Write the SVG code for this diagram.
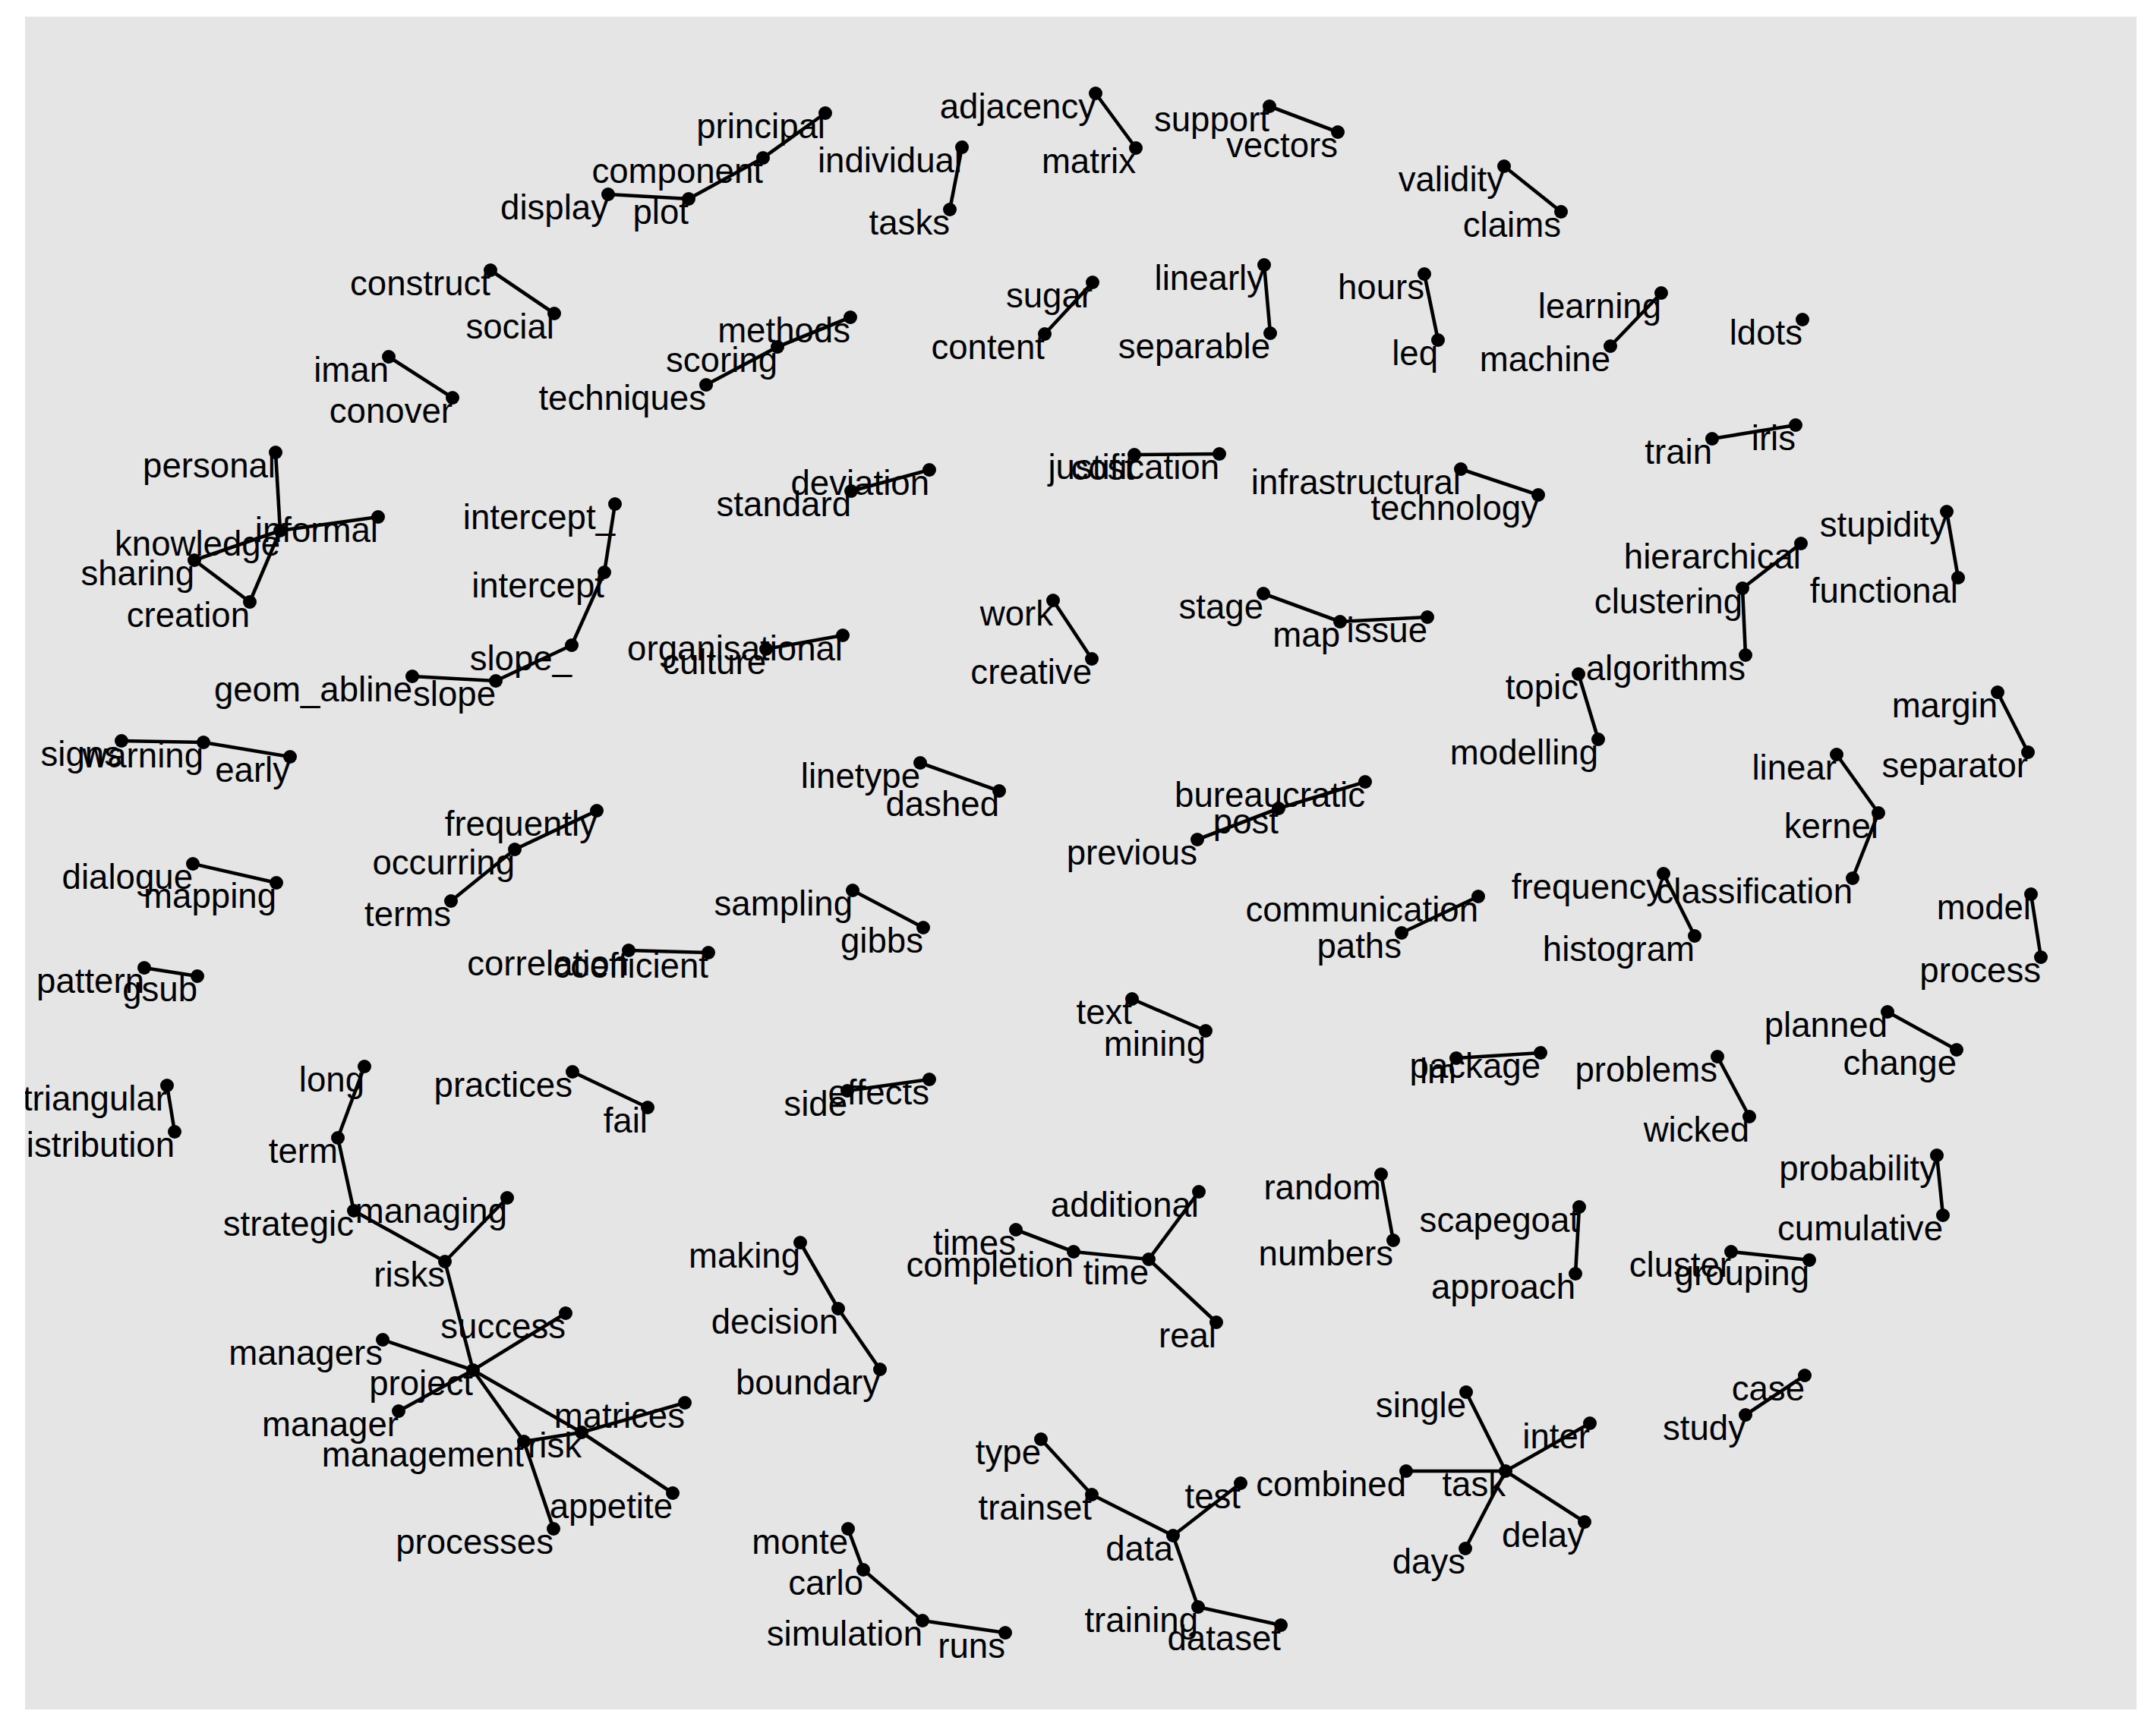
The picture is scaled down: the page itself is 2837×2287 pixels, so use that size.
<svg xmlns="http://www.w3.org/2000/svg" width="2837" height="2287" viewBox="0 0 2837 2287">
<style>
.e line{stroke:#000;stroke-width:4.6;stroke-linecap:butt}
.n circle{fill:#000}
.n text{font-family:"Liberation Sans",Arial,Helvetica,sans-serif;font-size:45.6px;text-anchor:end;fill:#000}
</style>
<defs><clipPath id="panel"><rect x="33" y="22" width="2781" height="2230"/></clipPath></defs>
<rect width="2837" height="2287" fill="#fff"/>
<rect x="33" y="22" width="2781" height="2230" fill="#e5e5e5"/>
<g clip-path="url(#panel)">
<g id="connectors" class="e">
<line x1="801" y1="256" x2="907" y2="262"/>
<line x1="907" y1="262" x2="1005" y2="208"/>
<line x1="1005" y1="208" x2="1087" y2="149"/>
<line x1="1267" y1="194" x2="1251" y2="276"/>
<line x1="1443" y1="123" x2="1496" y2="195"/>
<line x1="1672" y1="140" x2="1762" y2="174"/>
<line x1="1981" y1="219" x2="2056" y2="279"/>
<line x1="646" y1="356" x2="730" y2="413"/>
<line x1="512" y1="470" x2="596" y2="524"/>
<line x1="930" y1="507" x2="1024" y2="457"/>
<line x1="1024" y1="457" x2="1120" y2="418"/>
<line x1="1439" y1="372" x2="1376" y2="440"/>
<line x1="1665" y1="349" x2="1673" y2="439"/>
<line x1="1876" y1="361" x2="1894" y2="448"/>
<line x1="2188" y1="386" x2="2121" y2="456"/>
<line x1="2255" y1="578" x2="2365" y2="560"/>
<line x1="363" y1="596" x2="369" y2="699"/>
<line x1="369" y1="699" x2="498" y2="681"/>
<line x1="369" y1="699" x2="256" y2="738"/>
<line x1="369" y1="699" x2="329" y2="793"/>
<line x1="256" y1="738" x2="329" y2="793"/>
<line x1="810" y1="664" x2="796" y2="754"/>
<line x1="796" y1="754" x2="753" y2="850"/>
<line x1="753" y1="850" x2="653" y2="897"/>
<line x1="653" y1="897" x2="543" y2="891"/>
<line x1="1121" y1="647" x2="1224" y2="619"/>
<line x1="1494" y1="599" x2="1606" y2="598"/>
<line x1="1924" y1="618" x2="2026" y2="652"/>
<line x1="2564" y1="674" x2="2579" y2="761"/>
<line x1="2372" y1="716" x2="2295" y2="775"/>
<line x1="2295" y1="775" x2="2299" y2="863"/>
<line x1="1110" y1="837" x2="1009" y2="855"/>
<line x1="1387" y1="791" x2="1438" y2="868"/>
<line x1="1664" y1="782" x2="1765" y2="819"/>
<line x1="1765" y1="819" x2="1880" y2="813"/>
<line x1="2079" y1="888" x2="2105" y2="974"/>
<line x1="2631" y1="912" x2="2671" y2="991"/>
<line x1="160" y1="976" x2="268" y2="978"/>
<line x1="268" y1="978" x2="382" y2="997"/>
<line x1="1212" y1="1005" x2="1316" y2="1042"/>
<line x1="2419" y1="994" x2="2474" y2="1071"/>
<line x1="2474" y1="1071" x2="2440" y2="1157"/>
<line x1="1577" y1="1106" x2="1684" y2="1065"/>
<line x1="1684" y1="1065" x2="1798" y2="1030"/>
<line x1="786" y1="1068" x2="678" y2="1119"/>
<line x1="678" y1="1119" x2="594" y2="1187"/>
<line x1="254" y1="1138" x2="364" y2="1163"/>
<line x1="1123" y1="1173" x2="1216" y2="1222"/>
<line x1="1947" y1="1181" x2="1846" y2="1229"/>
<line x1="2191" y1="1151" x2="2232" y2="1233"/>
<line x1="2675" y1="1178" x2="2688" y2="1261"/>
<line x1="190" y1="1275" x2="260" y2="1286"/>
<line x1="828" y1="1252" x2="933" y2="1255"/>
<line x1="1491" y1="1316" x2="1588" y2="1358"/>
<line x1="1918" y1="1394" x2="2029" y2="1387"/>
<line x1="2262" y1="1392" x2="2304" y2="1471"/>
<line x1="2486" y1="1333" x2="2577" y2="1383"/>
<line x1="220" y1="1430" x2="230" y2="1491"/>
<line x1="480" y1="1405" x2="445" y2="1499"/>
<line x1="445" y1="1499" x2="466" y2="1595"/>
<line x1="754" y1="1412" x2="853" y2="1459"/>
<line x1="1116" y1="1437" x2="1224" y2="1422"/>
<line x1="2551" y1="1522" x2="2559" y2="1601"/>
<line x1="1819" y1="1547" x2="1835" y2="1634"/>
<line x1="2080" y1="1590" x2="2075" y2="1678"/>
<line x1="2280" y1="1649" x2="2383" y2="1660"/>
<line x1="466" y1="1595" x2="586" y2="1662"/>
<line x1="668" y1="1578" x2="586" y2="1662"/>
<line x1="586" y1="1662" x2="623" y2="1805"/>
<line x1="1338" y1="1620" x2="1414" y2="1649"/>
<line x1="1414" y1="1649" x2="1513" y2="1659"/>
<line x1="1513" y1="1659" x2="1579" y2="1570"/>
<line x1="1513" y1="1659" x2="1602" y2="1742"/>
<line x1="1054" y1="1637" x2="1104" y2="1724"/>
<line x1="1104" y1="1724" x2="1159" y2="1804"/>
<line x1="623" y1="1805" x2="745" y2="1730"/>
<line x1="623" y1="1805" x2="504" y2="1765"/>
<line x1="623" y1="1805" x2="525" y2="1859"/>
<line x1="623" y1="1805" x2="766" y2="1887"/>
<line x1="623" y1="1805" x2="690" y2="1899"/>
<line x1="690" y1="1899" x2="766" y2="1887"/>
<line x1="690" y1="1899" x2="729" y2="2014"/>
<line x1="766" y1="1887" x2="902" y2="1848"/>
<line x1="766" y1="1887" x2="886" y2="1967"/>
<line x1="2377" y1="1812" x2="2299" y2="1864"/>
<line x1="1983" y1="1938" x2="1931" y2="1834"/>
<line x1="1983" y1="1938" x2="1852" y2="1938"/>
<line x1="1983" y1="1938" x2="2094" y2="1875"/>
<line x1="1983" y1="1938" x2="2087" y2="2005"/>
<line x1="1983" y1="1938" x2="1930" y2="2040"/>
<line x1="1371" y1="1896" x2="1438" y2="1969"/>
<line x1="1438" y1="1969" x2="1545" y2="2023"/>
<line x1="1545" y1="2023" x2="1634" y2="1954"/>
<line x1="1545" y1="2023" x2="1578" y2="2117"/>
<line x1="1578" y1="2117" x2="1687" y2="2141"/>
<line x1="1117" y1="2014" x2="1137" y2="2068"/>
<line x1="1137" y1="2068" x2="1215" y2="2135"/>
<line x1="1215" y1="2135" x2="1324" y2="2151"/>
</g>
<g id="nodes" class="n">
<g id="node-display"><circle cx="801" cy="256" r="9"/><text x="801" y="289">display</text></g>
<g id="node-plot"><circle cx="907" cy="262" r="9"/><text x="907" y="295">plot</text></g>
<g id="node-component"><circle cx="1005" cy="208" r="9"/><text x="1005" y="241">component</text></g>
<g id="node-principal"><circle cx="1087" cy="149" r="9"/><text x="1087" y="182">principal</text></g>
<g id="node-individual"><circle cx="1267" cy="194" r="9"/><text x="1267" y="227">individual</text></g>
<g id="node-tasks"><circle cx="1251" cy="276" r="9"/><text x="1251" y="309">tasks</text></g>
<g id="node-adjacency"><circle cx="1443" cy="123" r="9"/><text x="1443" y="156">adjacency</text></g>
<g id="node-matrix"><circle cx="1496" cy="195" r="9"/><text x="1496" y="228">matrix</text></g>
<g id="node-support"><circle cx="1672" cy="140" r="9"/><text x="1672" y="173">support</text></g>
<g id="node-vectors"><circle cx="1762" cy="174" r="9"/><text x="1762" y="207">vectors</text></g>
<g id="node-validity"><circle cx="1981" cy="219" r="9"/><text x="1981" y="252">validity</text></g>
<g id="node-claims"><circle cx="2056" cy="279" r="9"/><text x="2056" y="312">claims</text></g>
<g id="node-construct"><circle cx="646" cy="356" r="9"/><text x="646" y="389">construct</text></g>
<g id="node-social"><circle cx="730" cy="413" r="9"/><text x="730" y="446">social</text></g>
<g id="node-iman"><circle cx="512" cy="470" r="9"/><text x="512" y="503">iman</text></g>
<g id="node-conover"><circle cx="596" cy="524" r="9"/><text x="596" y="557">conover</text></g>
<g id="node-techniques"><circle cx="930" cy="507" r="9"/><text x="930" y="540">techniques</text></g>
<g id="node-scoring"><circle cx="1024" cy="457" r="9"/><text x="1024" y="490">scoring</text></g>
<g id="node-methods"><circle cx="1120" cy="418" r="9"/><text x="1120" y="451">methods</text></g>
<g id="node-sugar"><circle cx="1439" cy="372" r="9"/><text x="1439" y="405">sugar</text></g>
<g id="node-content"><circle cx="1376" cy="440" r="9"/><text x="1376" y="473">content</text></g>
<g id="node-linearly"><circle cx="1665" cy="349" r="9"/><text x="1665" y="382">linearly</text></g>
<g id="node-separable"><circle cx="1673" cy="439" r="9"/><text x="1673" y="472">separable</text></g>
<g id="node-hours"><circle cx="1876" cy="361" r="9"/><text x="1876" y="394">hours</text></g>
<g id="node-leq"><circle cx="1894" cy="448" r="9"/><text x="1894" y="481">leq</text></g>
<g id="node-learning"><circle cx="2188" cy="386" r="9"/><text x="2188" y="419">learning</text></g>
<g id="node-machine"><circle cx="2121" cy="456" r="9"/><text x="2121" y="489">machine</text></g>
<g id="node-ldots"><circle cx="2374" cy="421" r="9"/><text x="2374" y="454">ldots</text></g>
<g id="node-train"><circle cx="2255" cy="578" r="9"/><text x="2255" y="611">train</text></g>
<g id="node-iris"><circle cx="2365" cy="560" r="9"/><text x="2365" y="593">iris</text></g>
<g id="node-personal"><circle cx="363" cy="596" r="9"/><text x="363" y="629">personal</text></g>
<g id="node-knowledge"><circle cx="369" cy="699" r="9"/><text x="369" y="732">knowledge</text></g>
<g id="node-informal"><circle cx="498" cy="681" r="9"/><text x="498" y="714">informal</text></g>
<g id="node-sharing"><circle cx="256" cy="738" r="9"/><text x="256" y="771">sharing</text></g>
<g id="node-creation"><circle cx="329" cy="793" r="9"/><text x="329" y="826">creation</text></g>
<g id="node-intercept_"><circle cx="810" cy="664" r="9"/><text x="810" y="697">intercept_</text></g>
<g id="node-intercept"><circle cx="796" cy="754" r="9"/><text x="796" y="787">intercept</text></g>
<g id="node-slope_"><circle cx="753" cy="850" r="9"/><text x="753" y="883">slope_</text></g>
<g id="node-slope"><circle cx="653" cy="897" r="9"/><text x="653" y="930">slope</text></g>
<g id="node-geom_abline"><circle cx="543" cy="891" r="9"/><text x="543" y="924">geom_abline</text></g>
<g id="node-standard"><circle cx="1121" cy="647" r="9"/><text x="1121" y="680">standard</text></g>
<g id="node-deviation"><circle cx="1224" cy="619" r="9"/><text x="1224" y="652">deviation</text></g>
<g id="node-cost"><circle cx="1494" cy="599" r="9"/><text x="1494" y="632">cost</text></g>
<g id="node-justification"><circle cx="1606" cy="598" r="9"/><text x="1606" y="631">justification</text></g>
<g id="node-infrastructural"><circle cx="1924" cy="618" r="9"/><text x="1924" y="651">infrastructural</text></g>
<g id="node-technology"><circle cx="2026" cy="652" r="9"/><text x="2026" y="685">technology</text></g>
<g id="node-stupidity"><circle cx="2564" cy="674" r="9"/><text x="2564" y="707">stupidity</text></g>
<g id="node-functional"><circle cx="2579" cy="761" r="9"/><text x="2579" y="794">functional</text></g>
<g id="node-hierarchical"><circle cx="2372" cy="716" r="9"/><text x="2372" y="749">hierarchical</text></g>
<g id="node-clustering"><circle cx="2295" cy="775" r="9"/><text x="2295" y="808">clustering</text></g>
<g id="node-algorithms"><circle cx="2299" cy="863" r="9"/><text x="2299" y="896">algorithms</text></g>
<g id="node-organisational"><circle cx="1110" cy="837" r="9"/><text x="1110" y="870">organisational</text></g>
<g id="node-culture"><circle cx="1009" cy="855" r="9"/><text x="1009" y="888">culture</text></g>
<g id="node-work"><circle cx="1387" cy="791" r="9"/><text x="1387" y="824">work</text></g>
<g id="node-creative"><circle cx="1438" cy="868" r="9"/><text x="1438" y="901">creative</text></g>
<g id="node-stage"><circle cx="1664" cy="782" r="9"/><text x="1664" y="815">stage</text></g>
<g id="node-map"><circle cx="1765" cy="819" r="9"/><text x="1765" y="852">map</text></g>
<g id="node-issue"><circle cx="1880" cy="813" r="9"/><text x="1880" y="846">issue</text></g>
<g id="node-topic"><circle cx="2079" cy="888" r="9"/><text x="2079" y="921">topic</text></g>
<g id="node-modelling"><circle cx="2105" cy="974" r="9"/><text x="2105" y="1007">modelling</text></g>
<g id="node-margin"><circle cx="2631" cy="912" r="9"/><text x="2631" y="945">margin</text></g>
<g id="node-separator"><circle cx="2671" cy="991" r="9"/><text x="2671" y="1024">separator</text></g>
<g id="node-signs"><circle cx="160" cy="976" r="9"/><text x="160" y="1009">signs</text></g>
<g id="node-warning"><circle cx="268" cy="978" r="9"/><text x="268" y="1011">warning</text></g>
<g id="node-early"><circle cx="382" cy="997" r="9"/><text x="382" y="1030">early</text></g>
<g id="node-linetype"><circle cx="1212" cy="1005" r="9"/><text x="1212" y="1038">linetype</text></g>
<g id="node-dashed"><circle cx="1316" cy="1042" r="9"/><text x="1316" y="1075">dashed</text></g>
<g id="node-linear"><circle cx="2419" cy="994" r="9"/><text x="2419" y="1027">linear</text></g>
<g id="node-kernel"><circle cx="2474" cy="1071" r="9"/><text x="2474" y="1104">kernel</text></g>
<g id="node-classification"><circle cx="2440" cy="1157" r="9"/><text x="2440" y="1190">classification</text></g>
<g id="node-bureaucratic"><circle cx="1798" cy="1030" r="9"/><text x="1798" y="1063">bureaucratic</text></g>
<g id="node-post"><circle cx="1684" cy="1065" r="9"/><text x="1684" y="1098">post</text></g>
<g id="node-previous"><circle cx="1577" cy="1106" r="9"/><text x="1577" y="1139">previous</text></g>
<g id="node-frequently"><circle cx="786" cy="1068" r="9"/><text x="786" y="1101">frequently</text></g>
<g id="node-occurring"><circle cx="678" cy="1119" r="9"/><text x="678" y="1152">occurring</text></g>
<g id="node-terms"><circle cx="594" cy="1187" r="9"/><text x="594" y="1220">terms</text></g>
<g id="node-dialogue"><circle cx="254" cy="1138" r="9"/><text x="254" y="1171">dialogue</text></g>
<g id="node-mapping"><circle cx="364" cy="1163" r="9"/><text x="364" y="1196">mapping</text></g>
<g id="node-sampling"><circle cx="1123" cy="1173" r="9"/><text x="1123" y="1206">sampling</text></g>
<g id="node-gibbs"><circle cx="1216" cy="1222" r="9"/><text x="1216" y="1255">gibbs</text></g>
<g id="node-communication"><circle cx="1947" cy="1181" r="9"/><text x="1947" y="1214">communication</text></g>
<g id="node-paths"><circle cx="1846" cy="1229" r="9"/><text x="1846" y="1262">paths</text></g>
<g id="node-frequency"><circle cx="2191" cy="1151" r="9"/><text x="2191" y="1184">frequency</text></g>
<g id="node-histogram"><circle cx="2232" cy="1233" r="9"/><text x="2232" y="1266">histogram</text></g>
<g id="node-model"><circle cx="2675" cy="1178" r="9"/><text x="2675" y="1211">model</text></g>
<g id="node-process"><circle cx="2688" cy="1261" r="9"/><text x="2688" y="1294">process</text></g>
<g id="node-pattern"><circle cx="190" cy="1275" r="9"/><text x="190" y="1308">pattern</text></g>
<g id="node-gsub"><circle cx="260" cy="1286" r="9"/><text x="260" y="1319">gsub</text></g>
<g id="node-correlation"><circle cx="828" cy="1252" r="9"/><text x="828" y="1285">correlation</text></g>
<g id="node-coefficient"><circle cx="933" cy="1255" r="9"/><text x="933" y="1288">coefficient</text></g>
<g id="node-text"><circle cx="1491" cy="1316" r="9"/><text x="1491" y="1349">text</text></g>
<g id="node-mining"><circle cx="1588" cy="1358" r="9"/><text x="1588" y="1391">mining</text></g>
<g id="node-lm"><circle cx="1918" cy="1394" r="9"/><text x="1918" y="1427">lm</text></g>
<g id="node-package"><circle cx="2029" cy="1387" r="9"/><text x="2029" y="1420">package</text></g>
<g id="node-problems"><circle cx="2262" cy="1392" r="9"/><text x="2262" y="1425">problems</text></g>
<g id="node-wicked"><circle cx="2304" cy="1471" r="9"/><text x="2304" y="1504">wicked</text></g>
<g id="node-planned"><circle cx="2486" cy="1333" r="9"/><text x="2486" y="1366">planned</text></g>
<g id="node-change"><circle cx="2577" cy="1383" r="9"/><text x="2577" y="1416">change</text></g>
<g id="node-triangular"><circle cx="220" cy="1430" r="9"/><text x="220" y="1463">triangular</text></g>
<g id="node-distribution"><circle cx="230" cy="1491" r="9"/><text x="230" y="1524">distribution</text></g>
<g id="node-long"><circle cx="480" cy="1405" r="9"/><text x="480" y="1438">long</text></g>
<g id="node-term"><circle cx="445" cy="1499" r="9"/><text x="445" y="1532">term</text></g>
<g id="node-practices"><circle cx="754" cy="1412" r="9"/><text x="754" y="1445">practices</text></g>
<g id="node-fail"><circle cx="853" cy="1459" r="9"/><text x="853" y="1492">fail</text></g>
<g id="node-side"><circle cx="1116" cy="1437" r="9"/><text x="1116" y="1470">side</text></g>
<g id="node-effects"><circle cx="1224" cy="1422" r="9"/><text x="1224" y="1455">effects</text></g>
<g id="node-probability"><circle cx="2551" cy="1522" r="9"/><text x="2551" y="1555">probability</text></g>
<g id="node-cumulative"><circle cx="2559" cy="1601" r="9"/><text x="2559" y="1634">cumulative</text></g>
<g id="node-random"><circle cx="1819" cy="1547" r="9"/><text x="1819" y="1580">random</text></g>
<g id="node-numbers"><circle cx="1835" cy="1634" r="9"/><text x="1835" y="1667">numbers</text></g>
<g id="node-scapegoat"><circle cx="2080" cy="1590" r="9"/><text x="2080" y="1623">scapegoat</text></g>
<g id="node-approach"><circle cx="2075" cy="1678" r="9"/><text x="2075" y="1711">approach</text></g>
<g id="node-cluster"><circle cx="2280" cy="1649" r="9"/><text x="2280" y="1682">cluster</text></g>
<g id="node-grouping"><circle cx="2383" cy="1660" r="9"/><text x="2383" y="1693">grouping</text></g>
<g id="node-strategic"><circle cx="466" cy="1595" r="9"/><text x="466" y="1628">strategic</text></g>
<g id="node-managing"><circle cx="668" cy="1578" r="9"/><text x="668" y="1611">managing</text></g>
<g id="node-risks"><circle cx="586" cy="1662" r="9"/><text x="586" y="1695">risks</text></g>
<g id="node-additional"><circle cx="1579" cy="1570" r="9"/><text x="1579" y="1603">additional</text></g>
<g id="node-times"><circle cx="1338" cy="1620" r="9"/><text x="1338" y="1653">times</text></g>
<g id="node-completion"><circle cx="1414" cy="1649" r="9"/><text x="1414" y="1682">completion</text></g>
<g id="node-time"><circle cx="1513" cy="1659" r="9"/><text x="1513" y="1692">time</text></g>
<g id="node-real"><circle cx="1602" cy="1742" r="9"/><text x="1602" y="1775">real</text></g>
<g id="node-making"><circle cx="1054" cy="1637" r="9"/><text x="1054" y="1670">making</text></g>
<g id="node-decision"><circle cx="1104" cy="1724" r="9"/><text x="1104" y="1757">decision</text></g>
<g id="node-boundary"><circle cx="1159" cy="1804" r="9"/><text x="1159" y="1837">boundary</text></g>
<g id="node-success"><circle cx="745" cy="1730" r="9"/><text x="745" y="1763">success</text></g>
<g id="node-managers"><circle cx="504" cy="1765" r="9"/><text x="504" y="1798">managers</text></g>
<g id="node-project"><circle cx="623" cy="1805" r="9"/><text x="623" y="1838">project</text></g>
<g id="node-manager"><circle cx="525" cy="1859" r="9"/><text x="525" y="1892">manager</text></g>
<g id="node-management"><circle cx="690" cy="1899" r="9"/><text x="690" y="1932">management</text></g>
<g id="node-risk"><circle cx="766" cy="1887" r="9"/><text x="766" y="1920">risk</text></g>
<g id="node-matrices"><circle cx="902" cy="1848" r="9"/><text x="902" y="1881">matrices</text></g>
<g id="node-appetite"><circle cx="886" cy="1967" r="9"/><text x="886" y="2000">appetite</text></g>
<g id="node-processes"><circle cx="729" cy="2014" r="9"/><text x="729" y="2047">processes</text></g>
<g id="node-case"><circle cx="2377" cy="1812" r="9"/><text x="2377" y="1845">case</text></g>
<g id="node-study"><circle cx="2299" cy="1864" r="9"/><text x="2299" y="1897">study</text></g>
<g id="node-single"><circle cx="1931" cy="1834" r="9"/><text x="1931" y="1867">single</text></g>
<g id="node-combined"><circle cx="1852" cy="1938" r="9"/><text x="1852" y="1971">combined</text></g>
<g id="node-task"><circle cx="1983" cy="1938" r="9"/><text x="1983" y="1971">task</text></g>
<g id="node-inter"><circle cx="2094" cy="1875" r="9"/><text x="2094" y="1908">inter</text></g>
<g id="node-delay"><circle cx="2087" cy="2005" r="9"/><text x="2087" y="2038">delay</text></g>
<g id="node-days"><circle cx="1930" cy="2040" r="9"/><text x="1930" y="2073">days</text></g>
<g id="node-type"><circle cx="1371" cy="1896" r="9"/><text x="1371" y="1929">type</text></g>
<g id="node-trainset"><circle cx="1438" cy="1969" r="9"/><text x="1438" y="2002">trainset</text></g>
<g id="node-data"><circle cx="1545" cy="2023" r="9"/><text x="1545" y="2056">data</text></g>
<g id="node-test"><circle cx="1634" cy="1954" r="9"/><text x="1634" y="1987">test</text></g>
<g id="node-training"><circle cx="1578" cy="2117" r="9"/><text x="1578" y="2150">training</text></g>
<g id="node-dataset"><circle cx="1687" cy="2141" r="9"/><text x="1687" y="2174">dataset</text></g>
<g id="node-monte"><circle cx="1117" cy="2014" r="9"/><text x="1117" y="2047">monte</text></g>
<g id="node-carlo"><circle cx="1137" cy="2068" r="9"/><text x="1137" y="2101">carlo</text></g>
<g id="node-simulation"><circle cx="1215" cy="2135" r="9"/><text x="1215" y="2168">simulation</text></g>
<g id="node-runs"><circle cx="1324" cy="2151" r="9"/><text x="1324" y="2184">runs</text></g>
</g>
</g>
</svg>
